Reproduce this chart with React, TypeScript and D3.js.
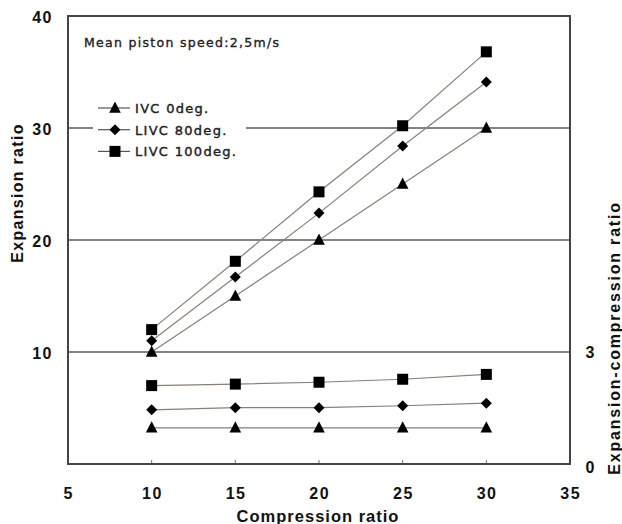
import React from "react";
import * as d3 from "d3";

const compression = [10, 15, 20, 25, 30];
const expIVC0 = [10, 15, 20, 25, 30];
const expLIVC80 = [11.0, 16.7, 22.4, 28.4, 34.1];
const expLIVC100 = [12.0, 18.1, 24.3, 30.2, 36.8];
const ecIVC0 = [0.97, 0.97, 0.97, 0.97, 0.97];
const ecLIVC80 = [1.45, 1.51, 1.51, 1.56, 1.63];
const ecLIVC100 = [2.1, 2.14, 2.19, 2.27, 2.4];
const xTicks = [5, 10, 15, 20, 25, 30, 35];
const yTicks = [10, 20, 30, 40];
const y2Ticks = [0, 3];
const seriesNames = ["IVC 0deg.", "LIVC 80deg.", "LIVC 100deg."];
const markers = ["triangle", "diamond", "square"];

const W = 622, H = 524;
const L = 68, R = 570, T = 16, B = 464;

function Marker({ kind, x, y }: { kind: string; x: number; y: number }) {
  if (kind === "square") return <rect x={x - 5.5} y={y - 5.5} width={11} height={11} fill="#000" />;
  if (kind === "diamond") return <path d={`M${x},${y - 5.5}L${x + 5.5},${y}L${x},${y + 5.5}L${x - 5.5},${y}Z`} fill="#000" />;
  return <path d={`M${x},${y - 6.5}L${x + 5.8},${y + 4.8}L${x - 5.8},${y + 4.8}Z`} fill="#000" />;
}

export default function App() {
  const x = d3.scaleLinear().domain([5, 35]).range([L, R]);
  const y = d3.scaleLinear().domain([0, 40]).range([B, T]);
  const y2 = d3.scaleLinear().domain([0, 12]).range([B, T]);
  const line = d3.line<[number, number]>().x(d => d[0]).y(d => d[1]);
  const upper = [expIVC0, expLIVC80, expLIVC100];
  const lower = [ecIVC0, ecLIVC80, ecLIVC100];
  const font = "Arial, 'Liberation Sans', sans-serif";
  const wide = "'DejaVu Sans', sans-serif";
  const lineColor = "#8a7f76";
  return (
    <svg width={W} height={H} style={{ position: "absolute", left: 0, top: 0 }} fontFamily={font}>
      <rect width={W} height={H} fill="#fff" />
      {yTicks.filter(t => t < 40).map(t => (
        <line key={t} x1={L} x2={R} y1={y(t)} y2={y(t)} stroke="#5a5a5a" strokeWidth={1.5} />
      ))}
      {compression.map(c => (
        <line key={c} x1={x(c)} x2={x(c)} y1={B} y2={B - 4} stroke="#777" strokeWidth={1} />
      ))}
      {upper.map((s, i) => (
        <path key={"u" + i} d={line(compression.map((c, j) => [x(c), y(s[j])]))!} fill="none" stroke={lineColor} strokeWidth={1.2} />
      ))}
      {lower.map((s, i) => (
        <path key={"l" + i} d={line(compression.map((c, j) => [x(c), y2(s[j])]))!} fill="none" stroke={lineColor} strokeWidth={1.2} />
      ))}
      {upper.map((s, i) => compression.map((c, j) => <Marker key={`um${i}${j}`} kind={markers[i]} x={x(c)} y={y(s[j])} />))}
      {lower.map((s, i) => compression.map((c, j) => <Marker key={`lm${i}${j}`} kind={markers[i]} x={x(c)} y={y2(s[j])} />))}
      <rect x={L} y={T} width={R - L} height={B - T} fill="none" stroke="#444" strokeWidth={2} />
      {/* legend */}
      <rect x={93} y={96} width={153} height={66} fill="#fff" />
      {seriesNames.map((n, i) => {
        const ly = 108 + i * 21.7;
        return (
          <g key={n}>
            <line x1={98} x2={130} y1={ly} y2={ly} stroke="#555" strokeWidth={1.2} />
            <Marker kind={markers[i]} x={115} y={ly} />
            <text x={135} y={ly + 5} fontSize={13} fontFamily={wide} letterSpacing={1.3} fill="#222" stroke="#222" strokeWidth={0.4}>{n}</text>
          </g>
        );
      })}
      <text x={84} y={47} fontSize={12.5} fontFamily={wide} letterSpacing={1.3} fill="#222" stroke="#222" strokeWidth={0.35}>Mean piston speed:2,5m/s</text>
      {/* axes labels */}
      {yTicks.map(t => (
        <text key={t} x={53} y={y(t) + 6.5} fontSize={16} fontWeight="bold" letterSpacing={1.5} textAnchor="end" fill="#111">{t}</text>
      ))}
      {xTicks.map(t => (
        <text key={t} x={x(t) + 0.75} y={499} fontSize={16} fontWeight="bold" letterSpacing={1.5} textAnchor="middle" fill="#111">{t}</text>
      ))}
      {y2Ticks.map(t => (
        <text key={t} x={590} y={y2(t) + (t === 0 ? 9 : 6)} fontSize={16} fontWeight="bold" textAnchor="middle" fill="#111">{t}</text>
      ))}
      <text x={318} y={522} fontSize={16.5} fontWeight="bold" letterSpacing={1} textAnchor="middle" fill="#111">Compression ratio</text>
      <text transform="translate(23,193) rotate(-90)" fontSize={16} fontWeight="bold" letterSpacing={1.3} textAnchor="middle" fill="#111">Expansion ratio</text>
      <text transform="translate(620,338) rotate(-90)" fontSize={16} fontWeight="bold" letterSpacing={1.8} textAnchor="middle" fill="#111">Expansion-compression ratio</text>
    </svg>
  );
}
